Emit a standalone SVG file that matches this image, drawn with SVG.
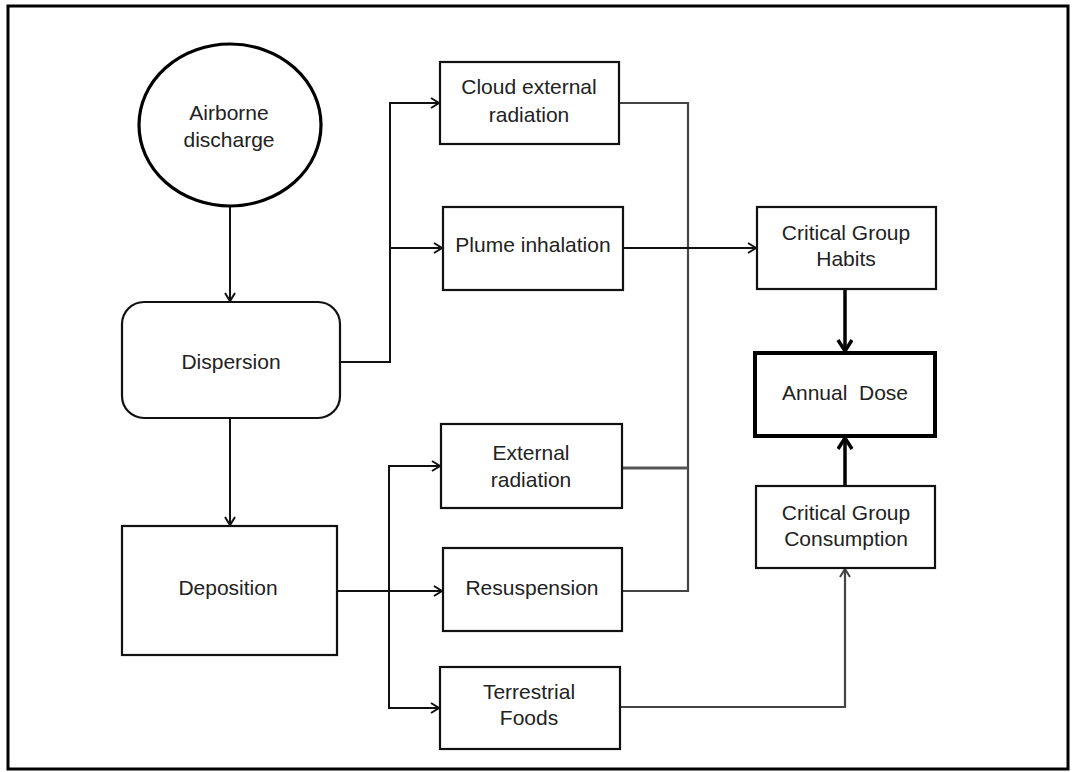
<svg xmlns="http://www.w3.org/2000/svg" width="1077" height="772" viewBox="0 0 1077 772">
<style>
.box{fill:#fff;stroke:#111;stroke-width:2.2}
.thick{fill:#fff;stroke:#000;stroke-width:4}
.t{font-family:"Liberation Sans",Arial,sans-serif;font-size:21px;fill:#222;text-anchor:middle}
.c{fill:none;stroke:#111;stroke-width:2}
.g{fill:none;stroke:#444;stroke-width:2.2}
.gt{fill:none;stroke:#555;stroke-width:3}
.k{fill:none;stroke:#000;stroke-width:3.5}
</style>
<defs>
<marker id="a" markerUnits="userSpaceOnUse" markerWidth="14" markerHeight="14" refX="10" refY="6" orient="auto">
<path d="M2,1 L10,6 L2,11" fill="none" stroke="#111" stroke-width="2"/>
</marker>
<marker id="ag" markerUnits="userSpaceOnUse" markerWidth="14" markerHeight="14" refX="10" refY="6" orient="auto">
<path d="M2,1 L10,6 L2,11" fill="none" stroke="#444" stroke-width="2"/>
</marker>
<marker id="ak" markerUnits="userSpaceOnUse" markerWidth="18" markerHeight="18" refX="13" refY="8" orient="auto">
<path d="M2,1 L13,8 L2,15" fill="none" stroke="#000" stroke-width="3.5"/>
</marker>
</defs>
<rect x="8" y="6" width="1060" height="763" fill="#fff" stroke="#000" stroke-width="3"/>
<g id="connectors">
<path class="c" d="M230,207 V301" marker-end="url(#a)"/>
<path class="c" d="M230,418 V525" marker-end="url(#a)"/>
<path class="c" d="M340,362 H390 V103 H439" marker-end="url(#a)"/>
<path class="c" d="M390,248 H442" marker-end="url(#a)"/>
<path class="c" d="M337,591 H442" marker-end="url(#a)"/>
<path class="c" d="M389,591 V466 H440" marker-end="url(#a)"/>
<path class="c" d="M389,591 V708 H439" marker-end="url(#a)"/>
<path class="g" d="M619,103 H688 V591 H622"/>
<path class="gt" d="M622,468 H688"/>
<path class="c" d="M623,248 H756" marker-end="url(#a)"/>
<path class="g" d="M620,707 H845 V569" marker-end="url(#ag)"/>
<path class="k" d="M845,289 V351" marker-end="url(#ak)"/>
<path class="k" d="M845,486 V438" marker-end="url(#ak)"/>
</g>
<g id="airborne">
<ellipse cx="230" cy="125" rx="91" ry="81" fill="#fff" stroke="#000" stroke-width="3.2"/>
<text class="t" x="229" y="120">Airborne</text>
<text class="t" x="229" y="147">discharge</text>
</g>
<g id="dispersion">
<rect class="box" x="122" y="302" width="218" height="116" rx="22"/>
<text class="t" x="231" y="369">Dispersion</text>
</g>
<g id="deposition">
<rect class="box" x="122" y="526" width="215" height="129"/>
<text class="t" x="228" y="595">Deposition</text>
</g>
<g id="cloud">
<rect class="box" x="440" y="62" width="179" height="82"/>
<text class="t" x="529" y="94">Cloud external</text>
<text class="t" x="529" y="122">radiation</text>
</g>
<g id="plume">
<rect class="box" x="443" y="207" width="180" height="83"/>
<text class="t" x="533" y="252">Plume inhalation</text>
</g>
<g id="external">
<rect class="box" x="441" y="424" width="181" height="84"/>
<text class="t" x="531" y="460">External</text>
<text class="t" x="531" y="487">radiation</text>
</g>
<g id="resuspension">
<rect class="box" x="443" y="548" width="179" height="83"/>
<text class="t" x="532" y="595">Resuspension</text>
</g>
<g id="terrestrial">
<rect class="box" x="440" y="667" width="180" height="82"/>
<text class="t" x="529" y="699">Terrestrial</text>
<text class="t" x="529" y="725">Foods</text>
</g>
<g id="habits">
<rect class="box" x="757" y="207" width="179" height="82"/>
<text class="t" x="846" y="240">Critical Group</text>
<text class="t" x="846" y="266">Habits</text>
</g>
<g id="dose">
<rect class="thick" x="755" y="353" width="180" height="83"/>
<text class="t" x="845" y="400" xml:space="preserve">Annual  Dose</text>
</g>
<g id="consumption">
<rect class="box" x="756" y="486" width="179" height="82"/>
<text class="t" x="846" y="520">Critical Group</text>
<text class="t" x="846" y="546">Consumption</text>
</g>
</svg>
